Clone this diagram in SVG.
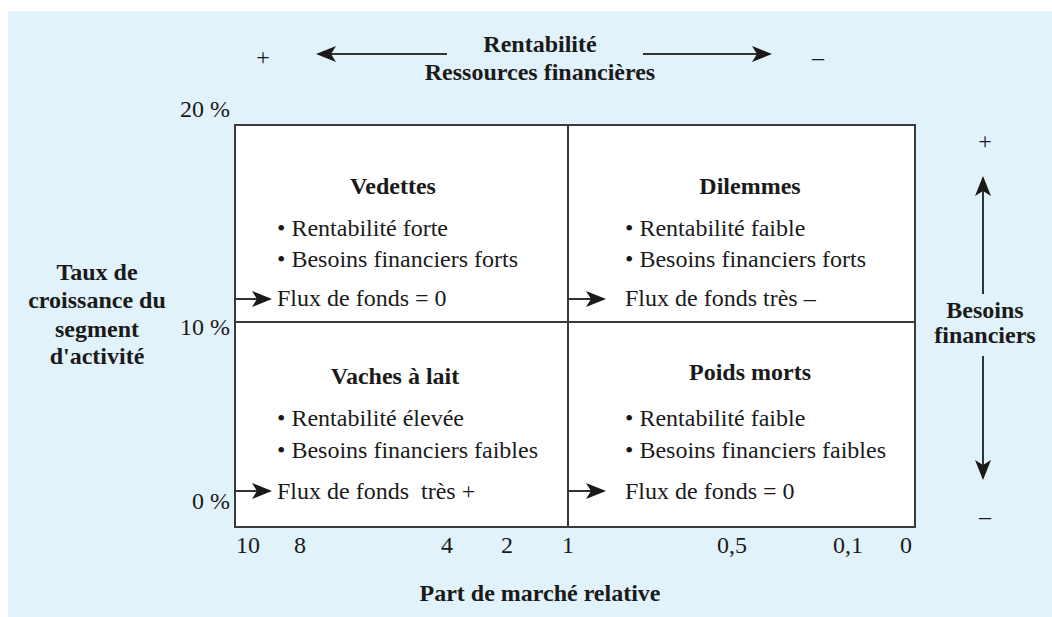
<svg xmlns="http://www.w3.org/2000/svg" width="1052" height="617" viewBox="0 0 1052 617">
<defs>
<marker id="dart" markerUnits="userSpaceOnUse" markerWidth="22" markerHeight="20" refX="18" refY="10" orient="auto" overflow="visible">
<path d="M0,2 L20,10 L0,18 L5,10 Z" fill="#1a1a1a"/>
</marker>
<style>
text{font-family:"Liberation Serif","Times New Roman",serif;fill:#1a1a1a}
.t{font-size:24px}
.b{font-size:24px;font-weight:bold}
.m{text-anchor:middle}
.ln{stroke:#3a3a3a;stroke-width:2;fill:none}
.box{stroke:#3a3a3a;stroke-width:2;fill:#ffffff}
.ar{stroke:#333;stroke-width:2;fill:none;marker-end:url(#dart)}
</style>
</defs>
<rect x="8" y="11" width="1044" height="606" fill="#e1f2fa"/>

<g id="matrix">
<rect x="235" y="125" width="680" height="402" class="box"/>
<line x1="568" y1="125" x2="568" y2="527" class="ln"/>
<line x1="235" y1="322" x2="915" y2="322" class="ln"/>
</g>

<g id="connectors">
<line x1="447" y1="54" x2="318" y2="54" class="ar"/>
<line x1="643" y1="54" x2="770" y2="54" class="ar"/>
<line x1="983" y1="294" x2="983" y2="178" class="ar"/>
<line x1="983" y1="356" x2="983" y2="478" class="ar"/>
<line x1="235" y1="299" x2="270" y2="299" class="ar"/>
<line x1="568" y1="299" x2="604" y2="299" class="ar"/>
<line x1="235" y1="491" x2="270" y2="491" class="ar"/>
<line x1="568" y1="491" x2="604" y2="491" class="ar"/>
</g>

<g id="top-label">
<text x="263" y="65" class="t m">+</text>
<text x="540" y="52" class="b m">Rentabilité</text>
<text x="540" y="80" class="b m">Ressources financières</text>
<text x="818" y="65" class="t m">–</text>
</g>

<g id="left-label">
<text x="97" y="280" class="b m">Taux de</text>
<text x="97" y="308" class="b m">croissance du</text>
<text x="97" y="337" class="b m">segment</text>
<text x="97" y="364" class="b m">d'activité</text>
<text x="230" y="117" class="t" text-anchor="end">20 %</text>
<text x="230" y="335" class="t" text-anchor="end">10 %</text>
<text x="230" y="509" class="t" text-anchor="end">0 %</text>
</g>

<g id="right-label">
<text x="985" y="149" class="t m">+</text>
<text x="985" y="318" class="b m">Besoins</text>
<text x="985" y="343" class="b m">financiers</text>
<text x="985" y="524" class="t m">–</text>
</g>

<g id="vedettes">
<text x="393" y="194" class="b m">Vedettes</text>
<text x="277" y="236" class="t">• Rentabilité forte</text>
<text x="277" y="267" class="t">• Besoins financiers forts</text>
<text x="277" y="306" class="t">Flux de fonds = 0</text>
</g>

<g id="dilemmes">
<text x="750" y="194" class="b m">Dilemmes</text>
<text x="625" y="236" class="t">• Rentabilité faible</text>
<text x="625" y="267" class="t">• Besoins financiers forts</text>
<text x="625" y="306" class="t">Flux de fonds très –</text>
</g>

<g id="vaches">
<text x="395" y="384" class="b m">Vaches à lait</text>
<text x="277" y="426" class="t">• Rentabilité élevée</text>
<text x="277" y="458" class="t">• Besoins financiers faibles</text>
<text x="277" y="499" class="t" xml:space="preserve">Flux de fonds  très +</text>
</g>

<g id="poids-morts">
<text x="750" y="380" class="b m">Poids morts</text>
<text x="625" y="426" class="t">• Rentabilité faible</text>
<text x="625" y="458" class="t">• Besoins financiers faibles</text>
<text x="625" y="499" class="t">Flux de fonds = 0</text>
</g>

<g id="x-axis">
<text x="248" y="553" class="t m">10</text>
<text x="300" y="553" class="t m">8</text>
<text x="447" y="553" class="t m">4</text>
<text x="507" y="553" class="t m">2</text>
<text x="568" y="553" class="t m">1</text>
<text x="732" y="553" class="t m">0,5</text>
<text x="848" y="553" class="t m">0,1</text>
<text x="906" y="553" class="t m">0</text>
<text x="540" y="601" class="b m">Part de marché relative</text>
</g>
</svg>
